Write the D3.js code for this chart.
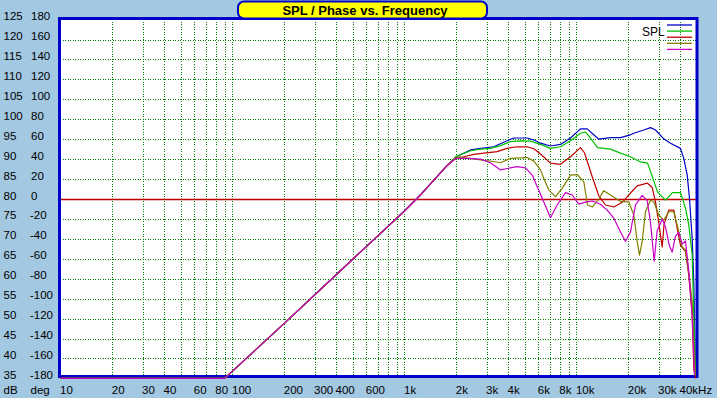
<!DOCTYPE html>
<html>
<head>
<meta charset="utf-8">
<script src="https://cdn.jsdelivr.net/npm/d3@7"></script>
<style>
html, body { margin: 0; padding: 0; background: #a3c8e2; }
svg { display: block; }
text { font-family: "Liberation Sans", Arial, sans-serif; font-size: 11.5px; fill: #000; }
</style>
</head>
<body>
<svg id="chart" width="717" height="398"></svg>
<script>
// shared low-frequency slope (all curves overlap here)
const lowFreq = [10, 90, 200, 500, 760, 1000, 1250, 1500, 1750];
const lowDb = [-3, 35.0, 48.8, 64.9, 72.2, 77.0, 81.2, 85.0, 88.2];

const blueFreq = [2000, 2420, 2770, 3300, 3950, 4320, 5170, 5650, 6180, 7060, 8070, 9230, 10550, 11540, 13480, 15770, 18030, 20600, 21540, 24620, 26930, 28800, 32180, 35200, 40240, 42060, 44030, 45390, 47070, 48090, 49180];
const blueDb = [90.6, 92.3, 92.7, 93.1, 94.6, 95.3, 95.3, 94.8, 94.0, 93.3, 93.7, 95.3, 97.6, 97.6, 95.0, 95.4, 95.4, 96.1, 96.5, 97.3, 97.9, 97.3, 95.1, 94.0, 92.7, 90.2, 86.0, 80.2, 70.1, 59.2, 35.8];

const greenFreq = [2000, 2420, 2770, 3160, 3620, 4130, 4730, 5400, 6180, 7060, 8070, 9230, 10550, 11280, 12060, 13250, 15770, 18030, 20600, 23560, 25880, 27670, 29580, 32920, 36150, 40240, 43040, 44970, 47070, 48090, 49180];
const greenDb = [90.7, 92.1, 92.5, 92.7, 93.4, 94.4, 94.6, 94.5, 93.7, 92.7, 93.1, 94.6, 96.5, 96.8, 95.3, 92.9, 92.5, 91.5, 90.6, 89.3, 89.0, 85.5, 81.8, 79.7, 81.6, 81.6, 77.7, 73.5, 65.9, 50.9, 35.8];

const redFreq = [2000, 2210, 2530, 2890, 3460, 3950, 4520, 5170, 5650, 6180, 7060, 8070, 9230, 10550, 11130, 12390, 13480, 14750, 16480, 18510, 20600, 22540, 25770, 27550, 28800, 30100, 31500, 32270, 34400, 36790, 38500, 40240, 43040, 44970, 47070, 48090, 49180];
const redDb = [90.4, 90.6, 91.2, 91.5, 91.9, 92.7, 93.1, 93.1, 92.6, 91.3, 89.0, 88.7, 90.6, 92.9, 91.6, 85.4, 80.8, 78.5, 78.0, 79.2, 81.5, 83.3, 84.0, 82.9, 79.3, 74.0, 68.0, 73.5, 77.2, 77.2, 72.7, 68.4, 66.8, 60.9, 50.9, 37.5, 34.0];

const oliveFreq = [2000, 2420, 2770, 3300, 3620, 4130, 5170, 5650, 6180, 6450, 6900, 7550, 8290, 9230, 10130, 11030, 11590, 12390, 13480, 14410, 15770, 18030, 20140, 21540, 22540, 23240, 24100, 25190, 26930, 28140, 30100, 32180, 34400, 36790, 39340, 41170, 43040, 44970, 47070, 48090, 49180];
const oliveDb = [90.5, 90.2, 89.8, 89.4, 89.1, 90.2, 90.4, 89.5, 87.3, 85.2, 82.3, 80.6, 82.8, 86.0, 86.1, 84.3, 78.5, 78.0, 80.0, 82.1, 81.0, 79.4, 79.3, 76.0, 69.3, 65.9, 69.3, 76.8, 79.7, 79.3, 76.0, 74.7, 76.8, 76.8, 71.8, 68.0, 67.2, 61.7, 54.2, 44.1, 35.8];

const magentaFreq = [2000, 2320, 2770, 3160, 3620, 4130, 4520, 5050, 5530, 5910, 6450, 7060, 7720, 8630, 9440, 10310, 11280, 12390, 13790, 15080, 16480, 18030, 19270, 20600, 22030, 24100, 25770, 26930, 28290, 29450, 31500, 32920, 34730, 36010, 37640, 39340, 41170, 43040, 44970, 47070, 48530];
const magentaDb = [90.2, 90.2, 90.0, 89.1, 87.3, 87.8, 88.1, 87.8, 86.0, 83.1, 79.3, 75.3, 78.5, 81.6, 81.0, 78.7, 79.2, 79.5, 78.7, 77.2, 75.2, 71.7, 69.4, 71.7, 78.5, 80.9, 79.6, 74.2, 64.4, 72.0, 75.0, 73.0, 68.2, 66.7, 70.7, 71.6, 68.7, 69.5, 61.9, 50.6, 35.8];

const dbTicks = [125, 120, 115, 110, 105, 100, 95, 90, 85, 80, 75, 70, 65, 60, 55, 50, 45, 40, 35];
const degTicks = [180, 160, 140, 120, 100, 80, 60, 40, 20, 0, -20, -40, -60, -80, -100, -120, -140, -160, -180];
const freqTicks = [10, 20, 30, 40, 60, 80, 100, 200, 300, 400, 600, 1000, 2000, 3000, 4000, 6000, 8000, 10000, 20000, 30000, 40000];
const freqLabels = ["10", "20", "30", "40", "60", "80", "100", "200", "300", "400", "600", "1k", "2k", "3k", "4k", "6k", "8k", "10k", "20k", "30k", "40kHz"];

const series = [
    { name: "blue", freq: blueFreq, db: blueDb, color: "#0000c8" },
    { name: "green", freq: greenFreq, db: greenDb, color: "#00c000" },
    { name: "red", freq: redFreq, db: redDb, color: "#c00000" },
    { name: "olive", freq: oliveFreq, db: oliveDb, color: "#808000" },
    { name: "magenta", freq: magentaFreq, db: magentaDb, color: "#c800c8" }
];

const svg = d3.select("#chart");

const x = d3.scaleLog().domain([10, 50000]).range([60.5, 696.7]);
const y = d3.scaleLinear().domain([35, 125]).range([378.4, 19.6]).clamp(true);

// plot background
svg.append("rect")
    .attr("x", 59.5).attr("y", 18.5)
    .attr("width", 637.5).attr("height", 358)
    .attr("fill", "#fff");

// vertical grid
const gridFreqs = x.ticks().filter(f => f > 10 && f < 50000);
svg.append("g").selectAll("line")
    .data(gridFreqs)
    .enter().append("line")
    .attr("x1", d => Math.round(x(d)) + 0.5).attr("x2", d => Math.round(x(d)) + 0.5)
    .attr("y1", 19).attr("y2", 376)
    .attr("stroke", "#008000").attr("stroke-dasharray", "1,1.5")
    .attr("shape-rendering", "crispEdges");

// horizontal grid
svg.append("g").selectAll("line")
    .data(dbTicks.filter(d => d !== 125 && d !== 35 && d !== 80))
    .enter().append("line")
    .attr("x1", 60).attr("x2", 696)
    .attr("y1", d => Math.round(y(d)) + 0.5).attr("y2", d => Math.round(y(d)) + 0.5)
    .attr("stroke", "#008000").attr("stroke-dasharray", "1,1.5")
    .attr("shape-rendering", "crispEdges");

// 0 deg / 80 dB reference line
svg.append("line")
    .attr("x1", 60).attr("x2", 696)
    .attr("y1", Math.round(y(80)) + 0.5).attr("y2", Math.round(y(80)) + 0.5)
    .attr("stroke", "#c00000").attr("stroke-width", 1.3);

// border
svg.append("rect")
    .attr("x", 59.5).attr("y", 18.5)
    .attr("width", 637.5).attr("height", 358)
    .attr("fill", "none")
    .attr("stroke", "#0000c8").attr("stroke-width", 3);

// curves
const line = d3.line()
    .x(d => x(d[0]))
    .y(d => y(d[1]));

series.forEach(s => {
    const pts = lowFreq.map((f, i) => [f, lowDb[i]])
        .concat(s.freq.map((f, i) => [f, s.db[i]]));
    svg.append("path")
        .datum(pts)
        .attr("fill", "none")
        .attr("stroke", s.color)
        .attr("stroke-width", 1.2)
        .attr("stroke-linejoin", "round")
        .attr("d", line);
});

// left axis labels
const yLab = svg.append("g");
yLab.selectAll(".db")
    .data(dbTicks)
    .enter().append("text")
    .attr("x", 3.5)
    .attr("y", d => y(d) + 0.5)
    .text(d => d);
yLab.selectAll(".deg")
    .data(degTicks)
    .enter().append("text")
    .attr("x", d => d < 0 ? 30 : 31)
    .attr("y", (d, i) => y(dbTicks[i]) + 0.5)
    .text(d => d);
yLab.append("text").attr("x", 3.5).attr("y", 394).text("dB");
yLab.append("text").attr("x", 30.5).attr("y", 394).text("deg");

// bottom axis labels
svg.append("g").selectAll("text")
    .data(freqTicks)
    .enter().append("text")
    .attr("x", d => x(d) - 0.5)
    .attr("y", 394)
    .text((d, i) => freqLabels[i]);

// title
svg.append("rect")
    .attr("x", 238).attr("y", 1.5)
    .attr("width", 249).attr("height", 17)
    .attr("rx", 6).attr("ry", 6)
    .attr("fill", "#ffff00")
    .attr("stroke", "#0000c8").attr("stroke-width", 2);
svg.append("text")
    .attr("x", 365).attr("y", 15)
    .attr("text-anchor", "middle")
    .style("font-size", "13px")
    .style("font-weight", "bold")
    .text("SPL / Phase vs. Frequency");

// legend
svg.append("text")
    .attr("x", 642).attr("y", 36)
    .style("font-size", "12px")
    .text("SPL");
svg.append("g").selectAll("line")
    .data(series)
    .enter().append("line")
    .attr("x1", 667).attr("x2", 692)
    .attr("y1", (d, i) => 25 + i * 6.1).attr("y2", (d, i) => 25 + i * 6.1)
    .attr("stroke", d => d.color)
    .attr("stroke-width", 1.3);
</script>
</body>
</html>
